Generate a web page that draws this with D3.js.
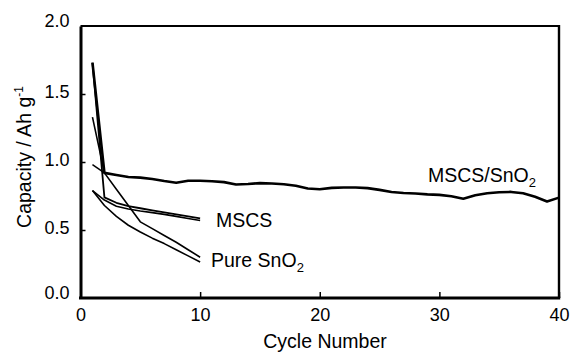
<!DOCTYPE html>
<html>
<head>
<meta charset="utf-8">
<script src="https://cdn.jsdelivr.net/npm/d3@7"></script>
<style>
  body { margin: 0; background: #fff; }
  text { font-family: "Liberation Sans", Arial, sans-serif; fill: #000; }
</style>
</head>
<body>
<script>
var width = 572, height = 352;

// capacity (Ah/g) per cycle
var compositeDischarge = [1.73, 0.92, 0.905, 0.89, 0.885, 0.875, 0.86, 0.848, 0.862, 0.862,
    0.858, 0.852, 0.835, 0.838, 0.845, 0.842, 0.836, 0.825, 0.805, 0.80,
    0.81, 0.812, 0.812, 0.808, 0.795, 0.78, 0.772, 0.768, 0.762, 0.758,
    0.748, 0.73, 0.755, 0.77, 0.778, 0.78, 0.77, 0.745, 0.71, 0.738];
var compositeCharge = [0.98, 0.92];
var mscsDischarge = [1.73, 0.74, 0.70, 0.675, 0.66, 0.645, 0.63, 0.615, 0.60, 0.585];
var mscsCharge = [0.79, 0.72, 0.675, 0.655, 0.64, 0.628, 0.615, 0.60, 0.585, 0.57];
var pureDischarge = [1.33, 0.92, 0.80, 0.68, 0.56, 0.51, 0.46, 0.41, 0.355, 0.30];
var pureCharge = [0.79, 0.68, 0.60, 0.535, 0.485, 0.44, 0.40, 0.355, 0.31, 0.265];

var xTicks = [0, 10, 20, 30, 40];
var yTicks = [0, 0.5, 1.0, 1.5, 2.0];

var x = d3.scaleLinear().domain([0, 40]).range([80.5, 559]);
var y = d3.scaleLinear().domain([0, 2]).range([298, 26]);

var svg = d3.select('body').append('svg').attr('width', width).attr('height', height);

function toPoints(values) {
    return values.map(function (v, i) { return [i + 1, v]; });
}

var line = d3.line()
    .x(function (d) { return x(d[0]); })
    .y(function (d) { return y(d[1]); });

var series = [
    { values: compositeDischarge, w: 2.6 },
    { values: compositeCharge, w: 1.5 },
    { values: mscsDischarge, w: 1.8 },
    { values: mscsCharge, w: 1.6 },
    { values: pureDischarge, w: 1.6 },
    { values: pureCharge, w: 1.6 }
];

svg.append('g').selectAll('path')
    .data(series)
    .enter().append('path')
    .attr('d', function (d) { return line(toPoints(d.values)); })
    .attr('fill', 'none')
    .attr('stroke', '#000')
    .attr('stroke-width', function (d) { return d.w; })
    .attr('stroke-linejoin', 'round');

// frame: thin top/right, heavy left/bottom
svg.append('line').attr('x1', x(0)).attr('x2', x(40)).attr('y1', y(2)).attr('y2', y(2))
    .attr('stroke', '#000').attr('stroke-width', 2);
svg.append('line').attr('x1', x(40)).attr('x2', x(40)).attr('y1', y(2) - 1).attr('y2', y(0))
    .attr('stroke', '#000').attr('stroke-width', 2.4);

var xAxis = d3.axisBottom(x).tickValues(xTicks).tickSizeInner(-6).tickSizeOuter(0)
    .tickFormat(d3.format('d'));
var gx = svg.append('g').attr('transform', 'translate(0,' + y(0) + ')').call(xAxis);
gx.select('.domain').attr('stroke-width', 3).attr('d', 'M' + (x(0) - 1.5) + ',0H' + (x(40) + 1.2));
gx.selectAll('.tick line').attr('stroke-width', 1.5);
gx.selectAll('.tick text').attr('font-size', 18).attr('font-family', '"Liberation Sans", Arial, sans-serif')
    .attr('y', 10).attr('dy', '0.71em');

var yAxis = d3.axisLeft(y).tickValues(yTicks).tickSizeInner(-5).tickSizeOuter(0)
    .tickFormat(d3.format('.1f'));
var gy = svg.append('g').attr('transform', 'translate(' + x(0) + ',0)').call(yAxis);
gy.select('.domain').attr('stroke-width', 3);
gy.selectAll('.tick line').attr('stroke-width', 1.5);
gy.selectAll('.tick text').attr('font-size', 18).attr('font-family', '"Liberation Sans", Arial, sans-serif')
    .attr('x', -11)
    .attr('dy', function (d) { return (d === 0 || d === 2) ? '0.05em' : '0.22em'; });
gy.selectAll('.tick').filter(function (d) { return d === 0 || d === 2; }).select('line').remove();

// axis titles
svg.append('text')
    .attr('x', 325).attr('y', 348)
    .attr('text-anchor', 'middle')
    .attr('font-size', 19.5)
    .text('Cycle Number');

var yt = svg.append('text')
    .attr('transform', 'translate(31,157) rotate(-90)')
    .attr('text-anchor', 'middle')
    .attr('font-size', 19.5);
yt.append('tspan').text('Capacity / Ah g');
yt.append('tspan').attr('font-size', 12).attr('dy', -8).text('-1');

// curve labels
function label(xp, yp, main, sub) {
    var t = svg.append('text').attr('x', xp).attr('y', yp).attr('font-size', 19.5);
    t.append('tspan').text(main);
    if (sub) t.append('tspan').attr('font-size', 13).attr('dy', 5).text(sub);
}
label(428, 182, 'MSCS/SnO', '2');
label(216, 227, 'MSCS');
label(211, 267, 'Pure SnO', '2');
</script>
</body>
</html>
